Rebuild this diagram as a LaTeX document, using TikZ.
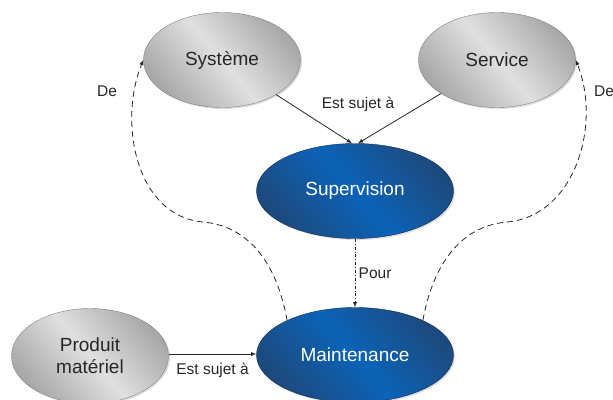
\documentclass[tikz,border=0pt]{standalone}
\usepackage{fontspec}
\setmainfont{Liberation Sans}
\usepackage{tikz}
\usetikzlibrary{arrows, shapes.geometric, shadows}

\definecolor{greylight}{HTML}{E0E0E0}
\definecolor{greydark}{HTML}{A8A8A8}
\definecolor{bluelight}{HTML}{0B63B8}
\definecolor{bluedark}{HTML}{1D4A7E}
\definecolor{bluerim}{HTML}{0E2A55}

\begin{document}
\begin{tikzpicture}[x=1pt, y=1pt,
    greynode/.style = {draw=black!50, ellipse, inner sep=0pt, minimum width=157pt, minimum height=95pt,
      left color=greydark, right color=greydark, middle color=greylight, shading angle=130,
      drop shadow={opacity=0.25, shadow xshift=1.5pt, shadow yshift=-1.5pt},
      text=black!85, font=\fontsize{19}{22}\selectfont, align=center},
    bluenode/.style = {draw=bluerim, ellipse, inner sep=0pt, minimum width=197pt, minimum height=95pt,
      left color=bluedark, right color=bluedark, middle color=bluelight, shading angle=130,
      drop shadow={opacity=0.25, shadow xshift=1.5pt, shadow yshift=-1.5pt},
      text=white, font=\fontsize{19}{22}\selectfont},
    lbl/.style = {text=black!85, font=\fontsize{15.5}{18}\selectfont},
    rel/.style = {draw=black!85, line width=0.8pt, -latex},
    from/.style = {draw=black!85, line width=0.8pt, dash pattern=on 6pt off 4pt, -latex}]
    \clip (0,-399) rectangle (613,0);
    % concepts
    \node[greynode] (sys) at (222,-60) {Système};
    \node[greynode] (serv) at (497,-60) {Service};
    \node[bluenode] (sup) at (355,-191) {Supervision};
    \node[bluenode] (maint) at (355,-355) {Maintenance};
    \node[greynode] (prod) at (90,-356) {Produit\\matériel};
    % relations
    \draw[rel] (sys) -- ([xshift=-3pt]sup.north);
    \draw[rel] (serv) -- ([xshift=3pt]sup.north);
    \node[lbl] (sujet1) at (358,-104) {Est sujet à};
    \draw[rel, dash dot] (sup) -- node[lbl, right] (pour) {Pour} (maint);
    \draw[rel] (prod.east |- 0,-354) -- node[lbl, below=5pt] (sujet2) {Est sujet à} (maint.west |- 0,-354);
    % dashed "De" links
    \coordinate (lbend) at (203,-222);
    \coordinate (rbend) at (507,-222);
    \draw[from] (maint.153) to[out=100, in=-5] (lbend) to[out=175, in=-112] (sys.west);
    \draw[from] (maint.27) to[out=80, in=185] (rbend) to[out=5, in=-68] (serv.east);
    \node[lbl] (de1) at (107,-91) {De};
    \node[lbl] (de2) at (604,-91) {De};
\end{tikzpicture}
\end{document}
